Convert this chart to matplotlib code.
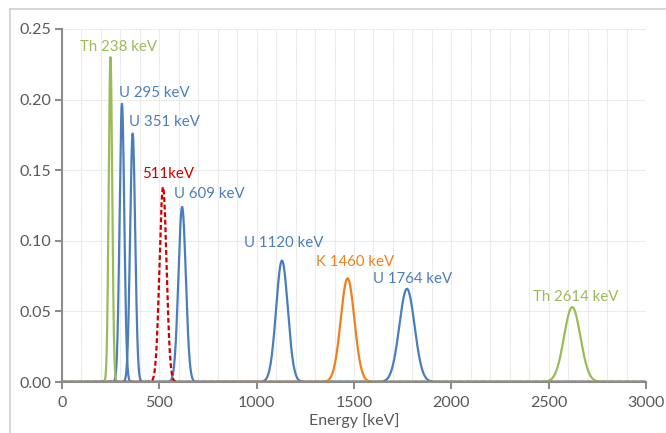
import numpy as np
import matplotlib
matplotlib.use("Agg")
import matplotlib.pyplot as plt
from matplotlib.lines import Line2D
from matplotlib.ticker import MultipleLocator

plt.rcParams['font.family'] = ['Lato', 'DejaVu Sans']

# peak centres [keV], heights and widths (sigma, keV)
u_centers = [308, 363, 617, 1130, 1772]
u_heights = [0.197, 0.176, 0.124, 0.086, 0.066]
u_sigmas = [12, 13, 19, 30, 39]

k_centers = [1467]
k_heights = [0.0734]
k_sigmas = [35]

th_centers = [249, 2621]
th_heights = [0.230, 0.053]
th_sigmas = [9, 42]

ann_centers = [519]
ann_heights = [0.138]
ann_sigmas = [18]

labels = ["Th 238 keV", "U 295 keV", "U 351 keV", "511keV", "U 609 keV",
          "U 1120 keV", "K 1460 keV", "U 1764 keV", "Th 2614 keV"]
label_x = [92, 293, 344, 411, 575, 935, 1305, 1597, 2419]
label_y = [0.237, 0.2047, 0.184, 0.147, 0.133, 0.0984, 0.085, 0.073, 0.060]

blue = "#4A7EBB"
orange = "#F0801E"
green = "#9BBB59"
red = "#CC0000"
label_colors = [green, blue, blue, red, blue, blue, orange, blue, green]

energy = np.linspace(0, 3000, 6001)


def peak(c, h, s):
    return h * np.exp(-0.5 * ((energy - c) / s) ** 2)


fig = plt.figure(figsize=(6.66, 4.33), dpi=100)
ax = fig.add_axes([62 / 666, 51 / 433, 584 / 666, 353 / 433])

groups = [
    (u_centers, u_heights, u_sigmas, blue, "-"),
    (k_centers, k_heights, k_sigmas, orange, "-"),
    (th_centers, th_heights, th_sigmas, green, "-"),
    (ann_centers, ann_heights, ann_sigmas, red, "--"),
]
for cs, hs, ss, col, style in groups:
    for c, h, s in zip(cs, hs, ss):
        if style == "--":
            ax.plot(energy, peak(c, h, s), color=col, lw=1.6, dashes=(2.2, 1.2))
        else:
            ax.plot(energy, peak(c, h, s), color=col, lw=1.6)

for txt, x, y, c in zip(labels, label_x, label_y, label_colors):
    ax.text(x, y, txt, color=c, fontsize=10.8, ha="left", va="center")

ax.set_xlim(0, 3000)
ax.set_ylim(0, 0.25)
ax.xaxis.set_major_locator(MultipleLocator(500))
ax.xaxis.set_minor_locator(MultipleLocator(100))
ax.yaxis.set_major_locator(MultipleLocator(0.05))
ax.yaxis.set_major_formatter(plt.FormatStrFormatter("%.2f"))
ax.grid(True, which="both", axis="x", color="#E3E3E3", lw=0.8, ls=(0, (1, 0.5)))
ax.grid(True, which="major", axis="y", color="#E3E3E3", lw=0.8, ls=(0, (1, 0.5)))
ax.set_axisbelow(True)

for side in ["top", "right"]:
    ax.spines[side].set_visible(False)
ax.spines["left"].set_color("#8C8C8C")
ax.spines["left"].set_linewidth(1.5)
ax.spines["bottom"].set_color("#8C8C8C")
ax.spines["bottom"].set_linewidth(1.5)
ax.tick_params(axis="both", which="major", colors="#8C8C8C", width=1.5, length=5,
               labelcolor="#595959", labelsize=11.5)
ax.tick_params(axis="x", which="minor", length=0)
ax.tick_params(axis="x", pad=5)
ax.tick_params(axis="y", pad=3)

ax.set_xlabel("Energy [keV]", color="#595959", fontsize=11.5, labelpad=2)

# chart area border (top and left edges visible)
fig.add_artist(Line2D([10 / 666, 1], [1 - 9 / 433, 1 - 9 / 433], color="#D0D0D0", lw=1.2))
fig.add_artist(Line2D([10 / 666, 10 / 666], [0, 1 - 9 / 433], color="#D0D0D0", lw=1.2))

fig.savefig("out.png", dpi=100)
